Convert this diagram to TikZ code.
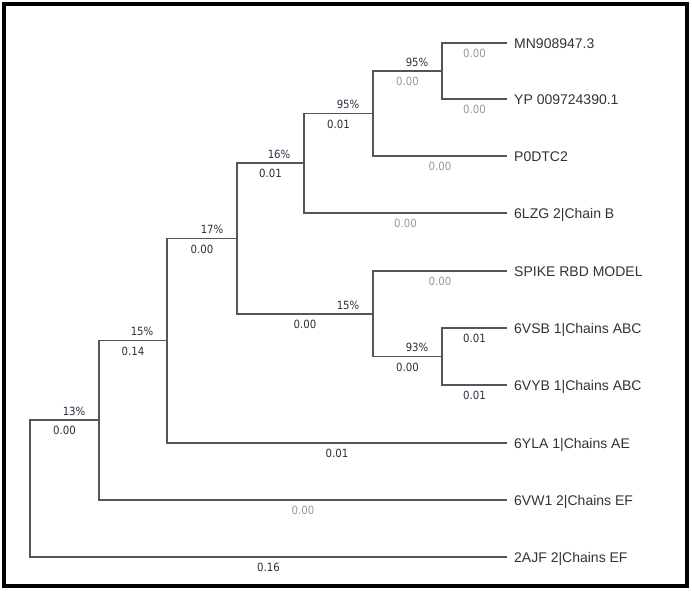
\documentclass[tikz,border=0pt]{standalone}
\usepackage{fontspec}
\setmainfont{Liberation Sans}
\newfontfamily\smallf{DejaVu Sans Condensed}
\definecolor{linec}{HTML}{555555}
\definecolor{leafc}{HTML}{333333}
\definecolor{grayc}{HTML}{999999}
\definecolor{darkc}{HTML}{2E2E40}
\begin{document}
\begin{tikzpicture}[x=1pt,y=-1pt,
  br/.style={draw=linec, line width=1.3pt},
  leaf/.style={anchor=west, inner xsep=7pt, inner ysep=0pt, text height=10pt, text depth=0pt,
    font=\fontsize{14}{16}\selectfont, text=leafc},
  bl/.style={font=\smallf\fontsize{11.3}{13}\selectfont, inner sep=0pt, text height=8.2pt, text depth=0pt},
  lenG/.style={bl, text=grayc, pos=0.75, yshift=-10.5pt},
  lenD/.style={bl, text=darkc, pos=0.75, yshift=-10.5pt},
  sup/.style={bl, text=darkc, pos=1, anchor=east, xshift=-13pt, yshift=9pt}]
\useasboundingbox (0,0) rectangle (692,592);
\fill[white] (0,0) rectangle (692,592);
\draw[line width=4.5pt] (4,4) rectangle (687,586);
% leaves
\node[leaf] (mn) at (507,43) {MN908947.3};
\node[leaf] (yp) at (507,99) {YP 009724390.1};
\node[leaf] (p0) at (507,156) {P0DTC2};
\node[leaf] (lzg) at (507,213) {6LZG 2|Chain B};
\node[leaf] (spike) at (507,271) {SPIKE RBD MODEL};
\node[leaf] (vsb) at (507,328) {6VSB 1|Chains ABC};
\node[leaf] (vyb) at (507,385) {6VYB 1|Chains ABC};
\node[leaf] (yla) at (507,443) {6YLA 1|Chains AE};
\node[leaf] (vw1) at (507,500) {6VW1 2|Chains EF};
\node[leaf] (ajf) at (507,557) {2AJF 2|Chains EF};
% internal nodes
\coordinate (A) at (442,71);
\coordinate (B) at (373,113.5);
\coordinate (C) at (304,163);
\coordinate (D) at (237,238.5);
\coordinate (E) at (373,314);
\coordinate (F) at (442,356.5);
\coordinate (G) at (167,340.5);
\coordinate (H) at (99,420);
\coordinate (R) at (30,488.5);
% branches
\draw[br] (A) |- node[lenG] (l1) {0.00} (mn.west);
\draw[br] (A) |- node[lenG] (l2) {0.00} (yp.west);
\draw[br] (B) |- node[lenG] (l3) {0.00} node[sup] (s1) {95\%} (A);
\draw[br] (B) |- node[lenG] (l4) {0.00} (p0.west);
\draw[br] (C) |- node[lenD] (l5) {0.01} node[sup] (s2) {95\%} (B);
\draw[br] (C) |- node[lenG] (l6) {0.00} (lzg.west);
\draw[br] (D) |- node[lenD] (l7) {0.01} node[sup] (s3) {16\%} (C);
\draw[br] (D) |- node[lenD] (l8) {0.00} node[sup] (s4) {15\%} (E);
\draw[br] (E) |- node[lenG] (l9) {0.00} (spike.west);
\draw[br] (E) |- node[lenD] (l10) {0.00} node[sup] (s5) {93\%} (F);
\draw[br] (F) |- node[lenD] (l11) {0.01} (vsb.west);
\draw[br] (F) |- node[lenD] (l12) {0.01} (vyb.west);
\draw[br] (G) |- node[lenD] (l13) {0.00} node[sup] (s6) {17\%} (D);
\draw[br] (G) |- node[lenD] (l14) {0.01} (yla.west);
\draw[br] (H) |- node[lenD] (l15) {0.14} node[sup] (s7) {15\%} (G);
\draw[br] (H) |- node[lenG] (l16) {0.00} (vw1.west);
\draw[br] (R) |- node[lenD] (l17) {0.00} node[sup] (s8) {13\%} (H);
\draw[br] (R) |- node[lenD] (l18) {0.16} (ajf.west);
\end{tikzpicture}
\end{document}
